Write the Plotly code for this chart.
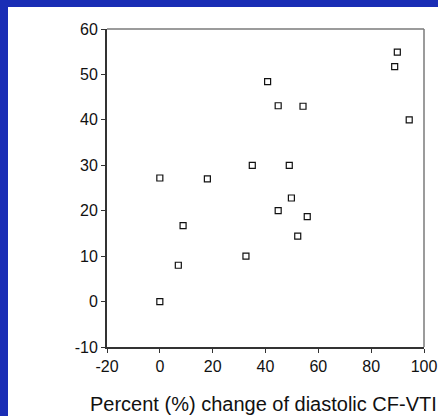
import plotly.graph_objects as go

x_vals = [89.9, 88.9, 40.8, 44.8, 54.2, 94.4, 0.0, 18.0, 35.0, 49.0,
          49.8, 44.8, 55.8, 8.8, 52.2, 32.6, 7.0, 0.0]
y_vals = [54.9, 51.7, 48.4, 43.1, 43.0, 40.0, 27.2, 27.0, 30.0, 30.0,
          22.8, 20.0, 18.7, 16.7, 14.4, 10.0, 8.0, 0.0]
x_ticks = [-20, 0, 20, 40, 60, 80, 100]
x_tick_labels = ["-20", "0", "20", "40", "60", "80", "100"]
y_ticks = [-10, 0, 10, 20, 30, 40, 50, 60]
y_tick_labels = ["-10", "0", "10", "20", "30", "40", "50", "60"]
x_title = "Percent (%) change of diastolic CF-VTI"

W, H = 438, 416
ml, mr, mt, mb = 107, 14, 29, 69
pw, ph = W - ml - mr, H - mt - mb

def px2x(px):
    return (px - ml) / pw

def py2y(py):
    return 1 - (py - mt) / ph

fig = go.Figure()
fig.add_trace(go.Scatter(
    x=x_vals, y=y_vals, mode="markers",
    marker=dict(symbol="square-open", size=6, color="#111111",
                line=dict(width=1.2, color="#111111")),
    cliponaxis=False, showlegend=False,
))

blue = "#1a2db5"
shapes = [
    dict(type="rect", xref="paper", yref="paper", x0=px2x(8), x1=px2x(W + 2),
         y0=py2y(H + 2), y1=py2y(7), fillcolor="white", line=dict(width=0), layer="below"),
    dict(type="line", xref="paper", yref="paper", x0=0, x1=1, y0=1, y1=1,
         line=dict(color="#7a7a7a", width=1.5)),
    dict(type="line", xref="paper", yref="paper", x0=1, x1=1, y0=0, y1=1,
         line=dict(color="#7a7a7a", width=1.5)),
]

fig.update_layout(
    template="none",
    width=W, height=H,
    margin=dict(l=ml, r=mr, t=mt, b=mb, autoexpand=False),
    paper_bgcolor=blue, plot_bgcolor="rgba(0,0,0,0)",
    font=dict(family="Liberation Sans, Arial, sans-serif", color="#111111", size=16),
    shapes=shapes,
    annotations=[dict(text=x_title, xref="paper", yref="paper",
                      x=px2x(263.5), y=py2y(404), xanchor="center", yanchor="middle",
                      showarrow=False, font=dict(size=20, color="#111111"))],
)
fig.update_xaxes(range=[-20, 100], tickvals=x_ticks, ticktext=x_tick_labels,
                 ticks="outside", ticklen=4,
                 tickcolor="#333333", showgrid=False, zeroline=False, automargin=False,
                 showline=True, linecolor="#333333", linewidth=2)
fig.update_yaxes(range=[-10, 60], tickvals=y_ticks, ticktext=y_tick_labels,
                 ticks="outside", ticklen=4,
                 tickcolor="#333333", showgrid=False, zeroline=False, automargin=False,
                 showline=True, linecolor="#333333", linewidth=2)

fig.write_html("out.html")
